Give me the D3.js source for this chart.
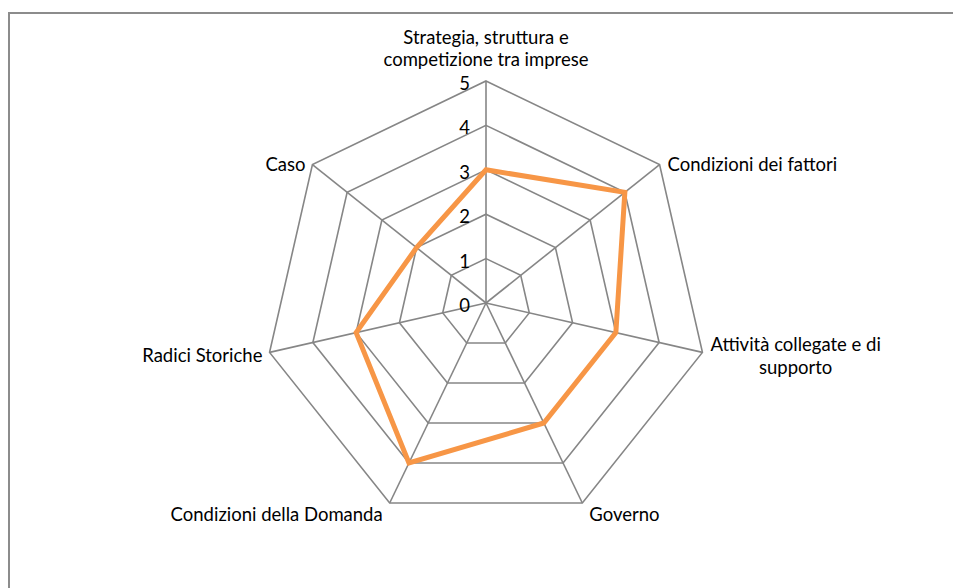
<!DOCTYPE html>
<html>
<head>
<meta charset="utf-8">
<script src="https://cdn.jsdelivr.net/npm/d3@7"></script>
<style>
  body { margin: 0; background: #fff; }
  text { font-family: Lato, "Open Sans", sans-serif; font-size: 18.5px; fill: #000; }
</style>
</head>
<body>
<div id="chart"></div>
<script>
// axis names (line breaks as in the original chart)
const categories = [
    ["Strategia, struttura e", "competizione tra imprese"],
    ["Condizioni dei fattori"],
    ["Attività collegate e di", "supporto"],
    ["Governo"],
    ["Condizioni della Domanda"],
    ["Radici Storiche"],
    ["Caso"]
];
const values = [3, 4, 3, 3, 4, 3, 2];
const ticks = [0, 1, 2, 3, 4, 5];

var width = 953, height = 588;
var cx = 486, cy = 303, R = 222;

var svg = d3.select("#chart")
    .append("svg")
    .attr("width", width)
    .attr("height", height);

// outer frame (only top and left visible)
svg.append("path")
    .attr("d", "M9," + height + "V13H" + width)
    .attr("fill", "none")
    .attr("stroke", "#8c8c8c")
    .attr("stroke-width", 2);

var g = svg.append("g")
    .attr("transform", "translate(" + cx + "," + cy + ")");

var r = d3.scaleLinear().domain([0, 5]).range([0, R]);
var n = categories.length;
var angle = function (i) { return i * 2 * Math.PI / n; };

var lineRadial = d3.lineRadial()
    .angle(function (d, i) { return angle(i); })
    .curve(d3.curveLinearClosed);

// rings
g.selectAll("path.ring")
    .data(ticks.slice(1))
    .enter()
    .append("path")
    .attr("class", "ring")
    .attr("d", function (t) {
        return lineRadial.radius(function () { return r(t); })(categories);
    })
    .attr("fill", "none")
    .attr("stroke", "#868686")
    .attr("stroke-width", 1.6);

// spokes
g.selectAll("line.spoke")
    .data(categories)
    .enter()
    .append("line")
    .attr("class", "spoke")
    .attr("x1", 0).attr("y1", 0)
    .attr("x2", function (d, i) { return r(5) * Math.sin(angle(i)); })
    .attr("y2", function (d, i) { return -r(5) * Math.cos(angle(i)); })
    .attr("stroke", "#868686")
    .attr("stroke-width", 1.6);

// tick labels
g.selectAll("text.tick")
    .data(ticks)
    .enter()
    .append("text")
    .attr("class", "tick")
    .attr("x", -16)
    .attr("y", function (t) { return -r(t) + 9; })
    .attr("text-anchor", "end")
    .text(function (t) { return t; });

// data line
g.append("path")
    .datum(values)
    .attr("d", lineRadial.radius(function (d) { return r(d); }))
    .attr("fill", "none")
    .attr("stroke", "#f79646")
    .attr("stroke-width", 5)
    .attr("stroke-linejoin", "miter");

// category labels
var lh = 22.5;
categories.forEach(function (lines, i) {
    var a = angle(i);
    var s = Math.sin(a), c = Math.cos(a);
    var vx = r(5) * s, vy = -r(5) * c;
    var t = g.append("text").attr("text-anchor", "middle");
    lines.forEach(function (l, k) {
        t.append("tspan").attr("x", 0).attr("dy", k === 0 ? 0 : lh).text(l);
    });
    var w = t.node().getBBox().width;
    var h = (lines.length - 1) * lh;
    var x, y;
    if (Math.abs(s) < 0.1) {
        x = vx; y = vy - 15 - h;
    } else if (c < -0.5) {
        // bottom labels
        x = vx + (s > 0 ? 7 + w / 2 : -7 - w / 2);
        y = vy + 18;
    } else {
        x = vx + (s > 0 ? 8 + w / 2 : -7 - w / 2);
        y = vy + 6 - h / 2 + (c < 0 ? 4 : 0);
    }
    t.attr("y", y);
    t.selectAll("tspan").attr("x", x);
});
</script>
</body>
</html>
